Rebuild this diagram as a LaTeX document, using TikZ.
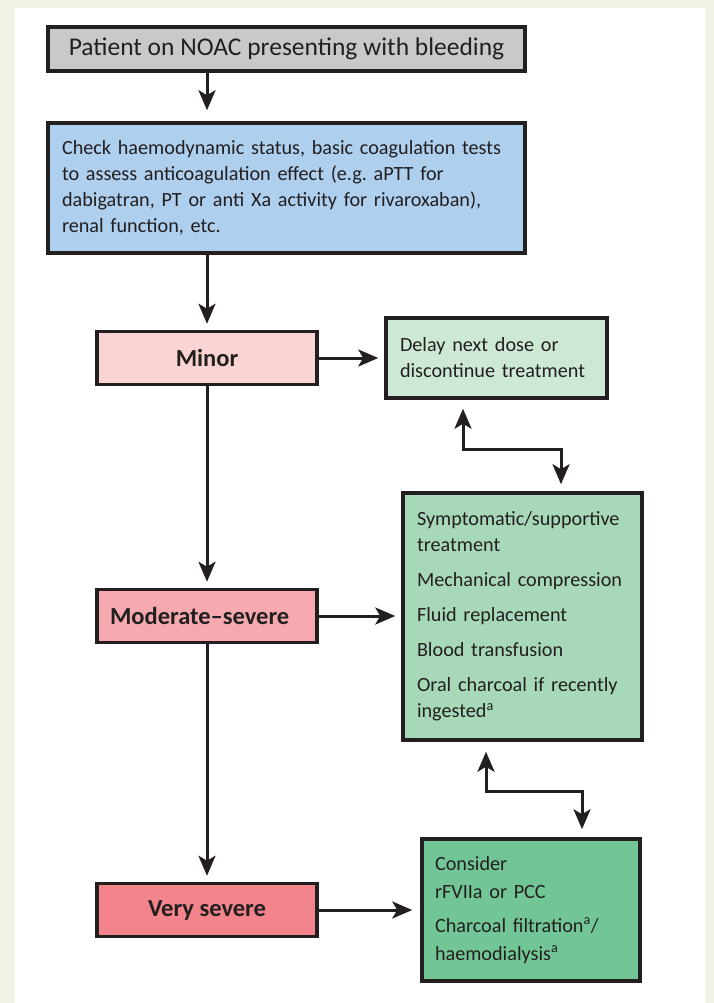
\documentclass[tikz,border=0pt]{standalone}
\usepackage{fontspec}
\setmainfont{Carlito}
\usepackage{tikz}
\usetikzlibrary{arrows.meta}
\usetikzlibrary{positioning}
\usetikzlibrary{calc}
\definecolor{fond}{HTML}{F1F2E6}
\definecolor{encre}{HTML}{231F20}
\definecolor{gris}{HTML}{C8C9CB}
\definecolor{bleu}{HTML}{AECFEE}
\definecolor{rose}{HTML}{FAD4D3}
\definecolor{roseb}{HTML}{F6AAAF}
\definecolor{rosec}{HTML}{F3848B}
\definecolor{vert}{HTML}{CDE9D5}
\definecolor{vertb}{HTML}{A7D9B9}
\definecolor{vertc}{HTML}{72C695}
\tikzstyle{boite}=[
        rectangle,
        draw=encre,
        line width=3.5pt,
        inner sep=0pt,
        text=encre,
        font=\fontsize{20.2}{26}\selectfont
]
\tikzstyle{depart}=[boite,fill=gris,minimum width=477pt,minimum height=44pt,font=\fontsize{25.5}{30}\selectfont]
\tikzstyle{bilan}=[boite,fill=bleu,inner xsep=14pt,text width=449pt,align=left,minimum height=130pt]
\tikzstyle{gravite}=[boite,minimum width=220pt,minimum height=53pt,font=\fontsize{24.5}{30}\selectfont\bfseries]
\tikzstyle{conduite}=[boite,inner xsep=14pt,align=left]
\tikzstyle{suite}=[-{Stealth[length=20pt,width=17pt,inset=5pt]},line width=3pt,draw=encre,shorten >=6pt]
\tikzstyle{retour}=[{Stealth[length=20pt,width=17pt,inset=5pt]}-{Stealth[length=20pt,width=17pt,inset=5pt]},line width=3pt,draw=encre,shorten >=7pt,shorten <=9pt]
\frenchspacing

\begin{document}
\begin{tikzpicture}[x=1pt,y=-1pt]
\useasboundingbox (0,0) rectangle (714,1003);
\fill[fond] (0,0) rectangle (714,1003);
\fill[white] (15,8) rectangle (705,1003);
\node[depart] (patient) at (286.5,49) {Patient on NOAC presenting with bleeding};
\node[bilan] (bilan) at (286.5,188) {Check haemodynamic status, basic coagulation tests\\
to assess anticoagulation effect (e.g.\ aPTT for\\
dabigatran, PT or anti Xa activity for rivaroxaban),\\
renal function, etc.};
\node[gravite,fill=rose] (minor) at (207,358) {Minor};
\node[gravite,fill=roseb,align=left,text width=194pt,inner xsep=13pt] (moderate) at (207,616) {Moderate--severe};
\node[gravite,fill=rosec] (severe) at (207,910) {Very severe};
\node[conduite,fill=vert,text width=193pt,minimum height=80pt] (delay) at (496.5,358) {Delay next dose or\\
discontinue treatment};
\node[conduite,fill=vertb,text width=211pt,minimum height=247pt] (support) at (522.5,616.5) {Symptomatic/supportive\\
treatment\\[9pt]
Mechanical compression\\[9pt]
Fluid replacement\\[9pt]
Blood transfusion\\[9pt]
Oral charcoal if recently\\
ingested\textsuperscript{a}};
\node[conduite,fill=vertc,text width=192pt,inner xsep=13pt,minimum height=142pt,font=\fontsize{20.2}{28}\selectfont] (rfviia) at (531,910) {Consider\\
rFVIIa or PCC\\[6pt]
Charcoal filtration\textsuperscript{a}/\\
haemodialysis\textsuperscript{a}};
%fleches
\draw[suite,shorten >=11pt] (patient.south -| minor.north) -- (bilan.north -| minor.north);
\draw[suite] (bilan.south -| minor.north) -- (minor.north);
\draw[suite] (minor.south) -- (moderate.north);
\draw[suite] (moderate.south) -- (severe.north);
\draw[suite] (minor.east) -- (delay.west |- minor.east);
\draw[suite] (moderate.east) -- (support.west |- moderate.east);
\draw[suite,shorten >=8pt] (severe.east) -- (rfviia.west |- severe.east);
\draw[retour] ([xshift=-33.5pt]delay.south) -- ++(0,50) -| ([xshift=38.5pt]support.north);
\draw[retour,shorten >=8pt,shorten <=10pt] ([xshift=-36.5pt]support.south) -- ++(0,50) -| ([xshift=51pt]rfviia.north);
\end{tikzpicture}
\end{document}
